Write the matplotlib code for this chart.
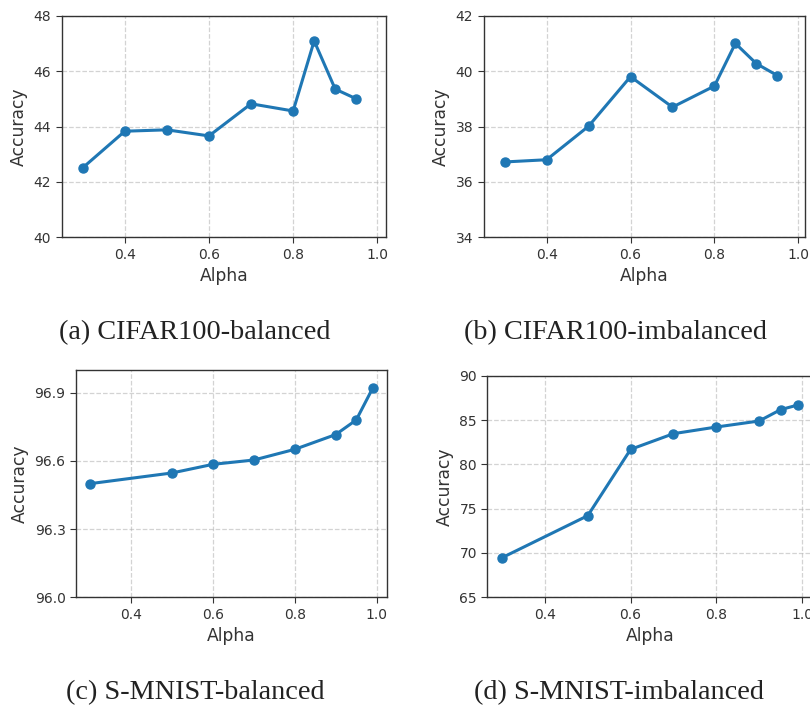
import matplotlib
matplotlib.use("Agg")
import matplotlib.pyplot as plt

# alpha values
alpha_cifar = [0.3, 0.4, 0.5, 0.6, 0.7, 0.8, 0.85, 0.9, 0.95]
alpha_mnist = [0.3, 0.5, 0.6, 0.7, 0.8, 0.9, 0.95, 0.99]

# accuracies
acc_cifar_bal = [42.51, 43.83, 43.88, 43.66, 44.82, 44.56, 47.09, 45.35, 45.00]
acc_cifar_imb = [36.72, 36.80, 38.01, 39.80, 38.70, 39.46, 41.00, 40.27, 39.84]
acc_mnist_bal = [96.50, 96.547, 96.585, 96.604, 96.651, 96.716, 96.78, 96.919]
acc_mnist_imb = [69.47, 74.21, 81.69, 83.46, 84.21, 84.89, 86.17, 86.69]

captions = ["(a) CIFAR100-balanced", "(b) CIFAR100-imbalanced",
            "(c) S-MNIST-balanced", "(d) S-MNIST-imbalanced"]

W, H = 810, 708
fig = plt.figure(figsize=(W / 100, H / 100), dpi=100)

TXT = "#333333"
plt.rcParams['font.family'] = 'DejaVu Sans'


def make_axes(l, t, r, b):
    return fig.add_axes([l / W, 1 - b / H, (r - l) / W, (b - t) / H])


def draw(ax, x, y, ylim, yticks, xlim=None, yfmt=None):
    ax.plot(x, y, marker='o', color='#1f77b4', linewidth=2.2, markersize=6.5)
    ax.set_ylim(*ylim)
    ax.set_yticks(yticks)
    if yfmt:
        ax.set_yticklabels([yfmt % v for v in yticks])
    if xlim:
        ax.set_xlim(*xlim)
    ax.set_xticks([0.4, 0.6, 0.8, 1.0])
    ax.grid(True, linestyle='--', color='#b0b0b0', alpha=0.55, linewidth=0.9)
    ax.set_xlabel('Alpha', fontsize=12.3, color=TXT)
    ax.set_ylabel('Accuracy', fontsize=12.3, color=TXT)
    ax.tick_params(labelsize=10, colors=TXT, length=4)
    for s in ax.spines.values():
        s.set_color(TXT)
        s.set_linewidth(1.0)


ax1 = make_axes(61.7, 15.7, 385.7, 237.3)
draw(ax1, alpha_cifar, acc_cifar_bal, (40, 48), [40, 42, 44, 46, 48], xlim=(0.25, 1.02))

ax2 = make_axes(483.7, 15.7, 805, 237.3)
draw(ax2, alpha_cifar, acc_cifar_imb, (34, 42), [34, 36, 38, 40, 42], xlim=(0.25, 1.016))

ax3 = make_axes(76, 370, 386.7, 597.3)
draw(ax3, alpha_mnist, acc_mnist_bal, (96.0, 97.0), [96.0, 96.3, 96.6, 96.9], yfmt='%.1f')

ax4 = make_axes(487.3, 375.7, 812.5, 597.3)
draw(ax4, alpha_mnist, acc_mnist_imb, (65, 90), [65, 70, 75, 80, 85, 90])

cap_pos = [(195, 333), (616, 333), (195, 693), (619, 693)]
for (cx, cy), cap in zip(cap_pos, captions):
    fig.text(cx / W, 1 - cy / H, cap, ha='center', va='center',
             fontsize=20.3, family='Liberation Serif', color='#222222')

fig.savefig('out.png', dpi=100)
